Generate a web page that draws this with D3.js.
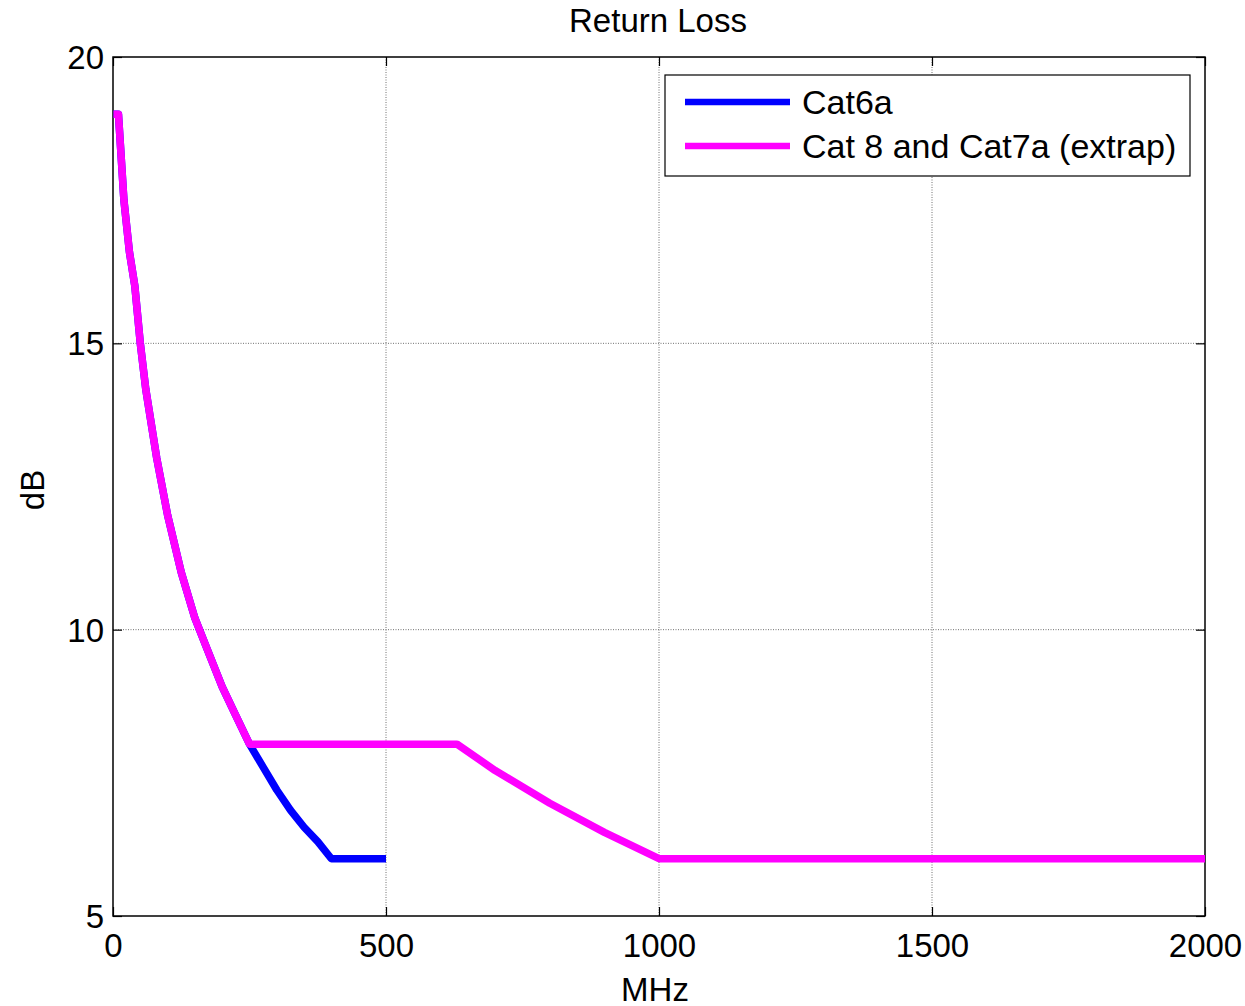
<!DOCTYPE html>
<html>
<head>
<meta charset="utf-8">
<script src="https://cdn.jsdelivr.net/npm/d3@7"></script>
<style>
  body { margin: 0; background: #fff; }
  text { font-family: "Liberation Sans", Arial, sans-serif; fill: #000; }
</style>
</head>
<body>
<svg width="1245" height="1006"></svg>
<script>
// values
var cat6aFreq = [1, 10, 20, 30, 40, 50, 60, 80, 100, 125, 150, 175, 200, 225, 250, 275, 300, 325, 350, 375, 400, 500];
var cat6aDb   = [19, 19, 17.5, 16.6, 16.0, 15.0, 14.2, 13.0, 12.0, 11.0, 10.2, 9.6, 9.0, 8.5, 8.0, 7.6, 7.2, 6.85, 6.55, 6.3, 6.0, 6.0];

var cat8Freq = [1, 10, 20, 30, 40, 50, 60, 80, 100, 125, 150, 175, 200, 225, 250, 400, 630, 700, 800, 900, 1000, 2000];
var cat8Db   = [19, 19, 17.5, 16.6, 16.0, 15.0, 14.2, 13.0, 12.0, 11.0, 10.2, 9.6, 9.0, 8.5, 8.0, 8.0, 8.0, 7.54, 6.97, 6.46, 6.0, 6.0];

var xTicks = [0, 500, 1000, 1500, 2000];
var yTicks = [5, 10, 15, 20];
var seriesNames = ["Cat6a", "Cat 8 and Cat7a (extrap)"];
var seriesColors = ["#0000ff", "#ff00ff"];

// plot box (note: "top" is taken by window.top, so use m_ names)
var m_left = 113, m_right = 1205, m_top = 57, m_bottom = 916;
var fontSize = 33;

var svg = d3.select("svg");

var x = d3.scaleLinear().domain([0, 2000]).range([m_left, m_right]);
var y = d3.scaleLinear().domain([5, 20]).range([m_bottom, m_top]);

// grid (dotted)
var grid = svg.append("g").classed("grid", true);
grid.selectAll("line.gx")
  .data(xTicks.slice(1, -1))
  .enter().append("line")
  .attr("x1", d => x(d)).attr("x2", d => x(d))
  .attr("y1", m_top).attr("y2", m_bottom)
  .attr("stroke", "#707070").attr("stroke-width", 1)
  .attr("stroke-dasharray", "1,1.5");
grid.selectAll("line.gy")
  .data(yTicks.slice(1, -1))
  .enter().append("line")
  .attr("x1", m_left).attr("x2", m_right)
  .attr("y1", d => y(d)).attr("y2", d => y(d))
  .attr("stroke", "#707070").attr("stroke-width", 1)
  .attr("stroke-dasharray", "1,1.5");

// axes, matlab style ticks pointing inward on all four sides
var tickLen = 9;
var fmt = d3.format("d");
var xb = svg.append("g").attr("transform", "translate(0," + m_bottom + ")")
  .call(d3.axisBottom(x).tickValues(xTicks).tickFormat(fmt).tickSize(-tickLen).tickSizeOuter(0));
var xt = svg.append("g").attr("transform", "translate(0," + m_top + ")")
  .call(d3.axisTop(x).tickValues(xTicks).tickSize(-tickLen).tickFormat("").tickSizeOuter(0));
var yl = svg.append("g").attr("transform", "translate(" + m_left + ",0)")
  .call(d3.axisLeft(y).tickValues(yTicks).tickFormat(fmt).tickSize(-tickLen).tickSizeOuter(0));
var yr = svg.append("g").attr("transform", "translate(" + m_right + ",0)")
  .call(d3.axisRight(y).tickValues(yTicks).tickSize(-tickLen).tickFormat("").tickSizeOuter(0));

[xb, xt, yl, yr].forEach(function(g) {
  g.select(".domain").remove();
  g.selectAll(".tick line").attr("stroke", "#000").attr("stroke-width", 1.2);
  g.selectAll("text").style("font-size", fontSize + "px")
    .style("font-family", "'Liberation Sans', Arial, sans-serif");
});
xb.selectAll("text").attr("y", 41).attr("dy", 0);
yl.selectAll("text").attr("x", -9).attr("dy", "0.35em");

// box
svg.append("rect")
  .attr("x", m_left).attr("y", m_top)
  .attr("width", m_right - m_left).attr("height", m_bottom - m_top)
  .attr("fill", "none").attr("stroke", "#000").attr("stroke-width", 1.5);

// curves
var line = d3.line().x(d => x(d[0])).y(d => y(d[1]));
var series = [
  d3.zip(cat6aFreq, cat6aDb),
  d3.zip(cat8Freq, cat8Db)
];
svg.selectAll("path.curve")
  .data(series)
  .enter().append("path")
  .classed("curve", true)
  .attr("d", line)
  .attr("fill", "none")
  .attr("stroke", (d, i) => seriesColors[i])
  .attr("stroke-width", 7.5)
  .attr("stroke-linejoin", "round");

// labels
svg.append("text").attr("x", 658).attr("y", 32)
  .attr("text-anchor", "middle").style("font-size", fontSize + "px").text("Return Loss");
svg.append("text").attr("x", 655).attr("y", 1001)
  .attr("text-anchor", "middle").style("font-size", fontSize + "px").text("MHz");
svg.append("text").attr("transform", "translate(44,490) rotate(-90)")
  .attr("text-anchor", "middle").style("font-size", fontSize + "px").text("dB");

// legend
var lg = svg.append("g").classed("legend", true);
lg.append("rect")
  .attr("x", 665).attr("y", 75).attr("width", 525).attr("height", 101)
  .attr("fill", "#fff").attr("stroke", "#000").attr("stroke-width", 1.2);
var items = lg.selectAll("g.item")
  .data(seriesNames)
  .enter().append("g")
  .attr("transform", (d, i) => "translate(0," + (102 + i * 44) + ")");
items.append("line")
  .attr("x1", 685).attr("x2", 790)
  .attr("stroke", (d, i) => seriesColors[i]).attr("stroke-width", 6.5);
items.append("text")
  .attr("x", 802).attr("dy", "0.35em")
  .style("font-size", "34px")
  .text(d => d);
</script>
</body>
</html>
